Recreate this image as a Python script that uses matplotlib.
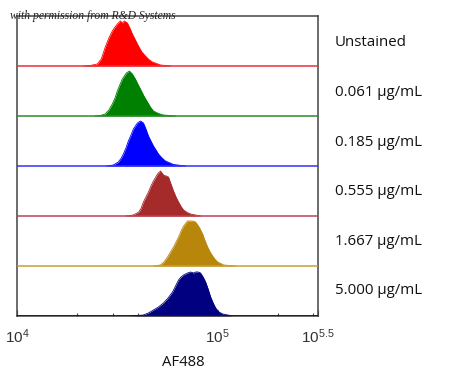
import numpy as np
import matplotlib
matplotlib.use("Agg")
import matplotlib.pyplot as plt
from matplotlib.ticker import LogLocator, NullFormatter, FixedLocator

# ── data: AF488 intensity vs relative event count (per panel, 0-50) ──
labels = ["Unstained", "0.061 µg/mL", "0.185 µg/mL",
          "0.555 µg/mL", "1.667 µg/mL", "5.000 µg/mL"]

red_x = [21500, 23170, 25120, 26300, 27540, 28700, 29850, 30800, 31620,
         32730, 33500, 34280, 35480, 36500, 37580, 38900, 40270, 41900,
         43650, 45400, 47320, 51880, 58210]
red_y = [0, 0.5, 2, 7, 19, 28, 35, 39, 42, 45, 43, 45, 43, 38, 32, 26, 20,
         14, 10, 6.5, 4, 1, 0]

green_x = [24500, 26000, 27500, 28700, 29850, 30800, 31620, 32500, 33500,
           35080, 36310, 37580, 38900, 40000, 41210, 42900, 44670, 46200,
           47860, 50700, 53700, 61660]
green_y = [0, 0.5, 2, 6, 12, 18, 25, 31, 37, 43, 45, 42, 37, 32, 27, 20, 14,
           9, 5, 2.5, 1, 0]

blue_x = [28000, 30200, 32000, 33100, 33880, 34900, 35890, 37000, 38020,
          39810, 41210, 42660, 43900, 45190, 46500, 47860, 49300, 50700,
          52800, 54950, 60260, 69180]
blue_y = [0, 1, 4, 8, 12, 18, 25, 31, 37, 43, 45, 43, 37, 30, 25, 20, 16, 12,
          8, 5, 1.5, 0]

brown_x = [35000, 38020, 40500, 41600, 42660, 43900, 45190, 46500, 47860,
           50120, 51880, 53700, 56890, 58500, 60260, 62000, 63830, 65700,
           67610, 70500, 73280, 82220]
brown_y = [0, 1, 4, 8, 14, 19, 24, 30, 35, 42, 45, 41, 39, 32, 25, 19, 14,
           9.5, 6, 3.5, 2, 0]

gold_x = [48000, 51880, 54000, 56230, 58200, 60260, 62000, 63830, 65700,
          67610, 70790, 74990, 77620, 80800, 84140, 86600, 89130, 91700,
          94410, 97200, 100000, 107200, 123000]
gold_y = [0, 1, 4, 9, 14, 19, 24, 29, 35, 40, 45, 45, 44, 39, 32, 25, 19, 14,
          10, 6.5, 4, 1, 0]

navy_x = [36000, 40000, 42660, 45200, 47860, 50700, 53700, 56600, 59570,
          61700, 63830, 65700, 67610, 70790, 73280, 75860, 77620, 80000,
          82220, 84600, 87100, 89600, 92260, 95000, 97720, 101500, 105900,
          118900]
navy_y = [0, 0.5, 1, 3, 6, 9, 13, 18, 24, 30, 36, 39, 41, 43, 44, 43, 44,
          44, 43, 39, 34, 27, 19, 13, 8, 4, 2, 0]

series_x = [red_x, green_x, blue_x, brown_x, gold_x, navy_x]
series_y = [red_y, green_y, blue_y, brown_y, gold_y, navy_y]
fill_colors = ["#ff0000", "#008000", "#0000ff", "#a52a2a", "#b8860b", "#000080"]
line_colors = ["#e8303a", "#2e8b2e", "#3030ff", "#c04050", "#c8a030", "#000080"]

PANEL = 50

plt.rcParams["mathtext.fontset"] = "custom"
plt.rcParams["mathtext.rm"] = "Liberation Sans"
plt.rcParams["mathtext.it"] = "Liberation Sans:italic"

fig = plt.figure(figsize=(4.5, 3.83), dpi=100)
ax = fig.add_axes([17 / 450, 1 - 316 / 383, 301 / 450, 300 / 383])
ax.set_xscale("log")
ax.set_xlim(1e4, 10 ** 5.5)
ax.set_ylim(0, 6 * PANEL)

n = len(labels)
for i in range(n):
    base = (n - 1 - i) * PANEL
    xs = np.array(series_x[i], dtype=float)
    ys = np.array(series_y[i], dtype=float) + base
    ax.fill_between(xs, base, ys, color=fill_colors[i], linewidth=0, zorder=2)
    ax.plot(xs, ys, color=fill_colors[i], linewidth=0.6, zorder=2)
    ax.axhline(base, color=line_colors[i], linewidth=1.1, zorder=3)
    fig.text(335 / 450, 1 - (43 + i * 49.6) / 383, labels[i],
             fontsize=10.8, family="Open Sans", va="center", ha="left",
             color="#111111")

for s in ax.spines.values():
    s.set_color("#444444")
    s.set_linewidth(1.1)

ax.set_yticks([])
ax.xaxis.set_major_locator(FixedLocator([1e4, 1e5, 10 ** 5.5]))
ax.xaxis.set_minor_locator(LogLocator(base=10, subs=np.arange(2, 10)))
ax.xaxis.set_minor_formatter(NullFormatter())
ax.set_xticklabels([r"$10^{4}$", r"$10^{5}$", r"$10^{5.5}$"])
ax.tick_params(axis="x", which="major", direction="in", length=4,
               width=0.8, color="#444444", labelsize=11, pad=8,
               labelcolor="#333333")
ax.tick_params(axis="x", which="minor", direction="in", length=2.5,
               width=0.8, color="#444444")

fig.text(183 / 450, 1 - 362 / 383, "AF488", fontsize=10.7, family="Open Sans",
         ha="center", va="center", color="#111111")

fig.text(10 / 450, 1 - 16 / 383, "with permission from R&D Systems",
         fontsize=8.4, family="Liberation Serif", style="italic",
         ha="left", va="center", color="#222222")

fig.savefig("out.png", dpi=100)
